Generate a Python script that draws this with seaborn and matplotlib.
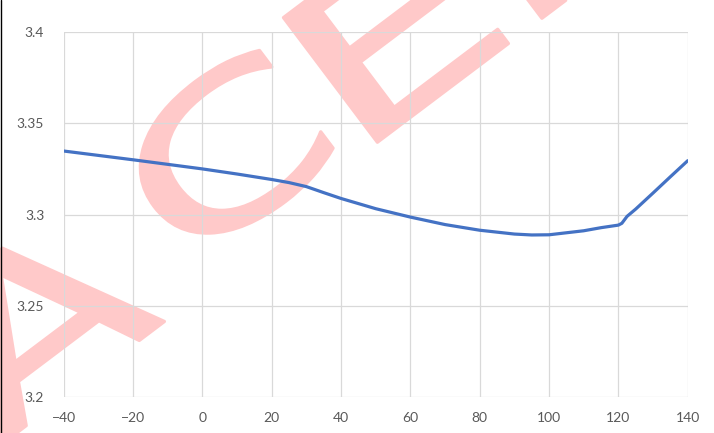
import numpy as np
import pandas as pd
import matplotlib
matplotlib.use("Agg")
import matplotlib.pyplot as plt
from matplotlib.lines import Line2D
from matplotlib.textpath import TextPath
from matplotlib.patches import PathPatch
from matplotlib.font_manager import FontProperties
from matplotlib.transforms import Affine2D, IdentityTransform
import seaborn as sns

# values
temperature = [-40, -30, -20, -10, 0, 10, 20, 25, 30, 35, 40, 50, 60, 70, 80,
               90, 95, 100, 110, 115, 120, 121, 122.5, 125, 130, 135, 140]
value = [3.3348, 3.3324, 3.3300, 3.3275, 3.3250, 3.3222, 3.3192, 3.3175, 3.3153,
         3.3120, 3.3088, 3.3032, 3.2986, 3.2945, 3.2914, 3.2893, 3.2888, 3.2889,
         3.2911, 3.2928, 3.2942, 3.2952, 3.2990, 3.3030, 3.3118, 3.3207, 3.3295]

x_ticks = [-40, -20, 0, 20, 40, 60, 80, 100, 120, 140]
y_ticks = [3.2, 3.25, 3.3, 3.35, 3.4]
y_labels = ['3.2', '3.25', '3.3', '3.35', '3.4']

# watermark letters
stamp_text = ['A', 'C', 'E', 'N']

df = pd.DataFrame({'T': temperature, 'V': value})

sns.set_style('whitegrid')
plt.rcParams['font.family'] = ['Lato', 'DejaVu Sans']

fig = plt.figure(figsize=(7.14, 4.33), dpi=100)
ax = fig.add_axes([0.0892, 0.0831, 0.874, 0.8429])
ax.set_facecolor('none')

sns.lineplot(data=df, x='T', y='V', color='#4472C4', linewidth=2.3, ax=ax)

ax.set_xlim(-40, 140)
ax.set_ylim(3.2, 3.4)
ax.set_xticks(x_ticks)
ax.set_yticks(y_ticks)
ax.set_yticklabels(y_labels)
ax.set_xlabel('')
ax.set_ylabel('')
ax.grid(True, color='#D9D9D9', linewidth=0.9)
for s in ax.spines.values():
    s.set_visible(False)
ax.tick_params(axis='both', length=0, labelsize=10, labelcolor='#595959')
ax.tick_params(axis='y', pad=14)
ax.tick_params(axis='x', pad=11)

# pink watermark: wide letters on a tilted baseline, behind the grid and line
fp = FontProperties(family='DejaVu Sans')
boxes = [(-481, -13, 205, 156), (-215, 10, 178, 150), (2, 2, 164, 156), (208, 2, 171, 156)]
for ch, (a0, b0, w, h) in zip(stamp_text, boxes):
    tp = TextPath((0, 0), ch, size=100, prop=fp)
    ext = tp.get_extents()
    tr = (Affine2D().translate(-ext.x0, -ext.y0)
          .scale(w / ext.width, h / ext.height)
          .translate(a0, b0)
          .rotate_deg(37)
          .translate(377, 288))
    fig.add_artist(PathPatch(tr.transform_path(tp), transform=IdentityTransform(),
                             facecolor='#FFC9C9', edgecolor='#FFC9C9',
                             linewidth=2.4, joinstyle='round', zorder=-1))

# thin dark border at the left edge of the screenshot
fig.add_artist(Line2D([0.0015, 0.0015], [0, 1], transform=fig.transFigure,
                      color='black', linewidth=1))

fig.savefig('out.png', dpi=100)
